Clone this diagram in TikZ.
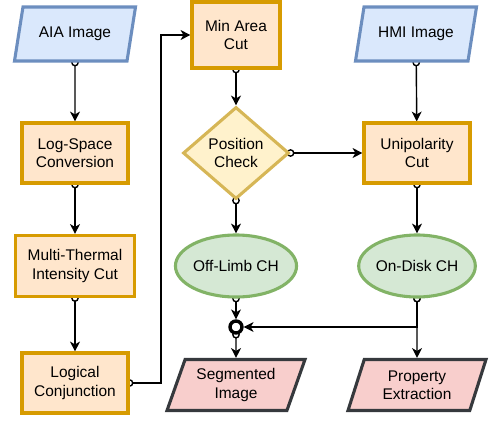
\documentclass[tikz,border=0pt]{standalone}
\usepackage{fontspec}
\setmainfont{Liberation Sans}
\usetikzlibrary{positioning}
\usetikzlibrary{shapes.geometric,arrows.meta}

\definecolor{inblue}{HTML}{DAE8FC}
\definecolor{inblueline}{HTML}{6C8EBF}
\definecolor{procfill}{HTML}{FFE6CC}
\definecolor{procline}{HTML}{D79B00}
\definecolor{checkfill}{HTML}{FFF2CC}
\definecolor{checkline}{HTML}{D6B656}
\definecolor{chfill}{HTML}{D5E8D4}
\definecolor{chline}{HTML}{82B366}
\definecolor{outfill}{HTML}{F8CECC}
\definecolor{outline}{HTML}{36393D}

\pgfdeclarelayer{edges}
\pgfsetlayers{edges,main}

\begin{document}
\begin{tikzpicture}[font=\fontsize{11}{13}\selectfont,
  proc/.style={rectangle,draw=procline,fill=procfill,line width=2.2pt,align=center,inner sep=2pt},
  slanted/.style={trapezium,trapezium left angle=63,trapezium right angle=117,trapezium stretches body,
    line width=2.2pt,align=center,inner sep=1pt},
  imgin/.style={slanted,draw=inblueline,fill=inblue,minimum width=3.025cm,minimum height=1.35cm},
  result/.style={slanted,draw=outline,fill=outfill,minimum width=3.45cm,minimum height=1.275cm},
  check/.style={diamond,draw=checkline,fill=checkfill,line width=2.2pt,align=center,inner sep=0pt,
    minimum width=2.65cm,minimum height=2.3cm},
  region/.style={ellipse,draw=chline,fill=chfill,line width=2.2pt,inner sep=0pt,
    minimum width=2.8cm,minimum height=1.55cm},
  joint/.style={circle,draw=black,fill=white,line width=2.4pt,inner sep=0pt,minimum size=0.3cm},
  flow/.style={line width=1pt,{Circle[open,fill=white,length=5.5pt,sep=-2.75pt]}-{Stealth[length=7pt,width=7pt,inset=2pt]}}]
\useasboundingbox (0,0) rectangle (12.45,10.9);

%input images
\node[imgin] (aia) at (1.875,10.05) {AIA Image};
\node[imgin] (hmi) at (10.4,10.05) {HMI Image};

%left column
\node[proc,minimum width=2.65cm,minimum height=1.5cm] (logspace) at (1.875,7.075) {Log-Space\\Conversion};
\node[proc,minimum width=2.975cm,minimum height=1.525cm] (thermal) at (1.875,4.25) {Multi-Thermal\\Intensity Cut};
\node[proc,minimum width=2.65cm,minimum height=1.5cm] (conj) at (1.875,1.325) {Logical\\Conjunction};

%middle column
\node[proc,minimum width=2.2cm,minimum height=1.65cm] (minarea) at (5.9,10.025) {Min Area\\Cut};
\node[check] (poscheck) at (5.9,7.075) {Position\\Check};
\node[region] (offlimb) at (5.9,4.25) {Off-Limb CH};
\node[joint] (join) at (5.9,2.725) {};
\node[result] (segimg) at (5.9,1.275) {Segmented\\Image};

%right column
\node[proc,minimum width=2.65cm,minimum height=1.5cm] (unipol) at (10.425,7.075) {Unipolarity\\Cut};
\node[region] (ondisk) at (10.425,4.25) {On-Disk CH};
\node[result] (propext) at (10.425,1.275) {Property\\Extraction};

\coordinate (detour) at (4.025,10.025);

%connectors
\begin{pgfonlayer}{edges}
\draw[flow] (aia) -- (logspace);
\draw[flow] (logspace) -- (thermal);
\draw[flow] (thermal) -- (conj);
\draw[flow] (conj.east) -| (detour) -- (minarea.west);
\draw[flow] (minarea) -- (poscheck);
\draw[flow] (poscheck) -- (offlimb);
\draw[flow] (poscheck.east) -- (unipol.west);
\draw[flow] (hmi) -- (unipol);
\draw[flow] (unipol) -- (ondisk);
\draw[flow] (offlimb) -- (join);
\draw[flow] (ondisk.south) |- (join.east);
\draw[flow] (ondisk) -- (propext);
\draw[flow] (join) -- (segimg);
\end{pgfonlayer}
\end{tikzpicture}
\end{document}
